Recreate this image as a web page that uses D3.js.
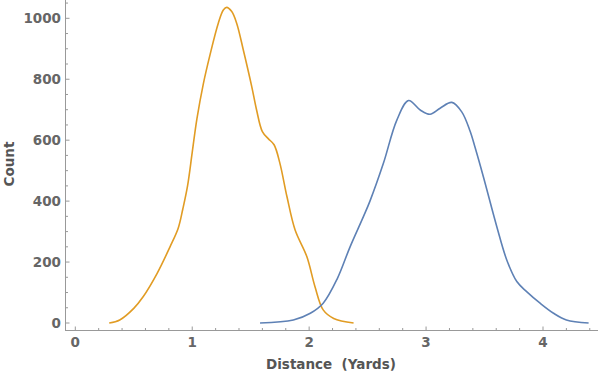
<!DOCTYPE html>
<meta charset="utf-8">
<head>
  <title>Distance histogram</title>
</head>

<style>
body {
  margin: 0;
  background: #fff;
}
text {
  font-family: "DejaVu Sans", sans-serif;
  font-weight: bold;
  fill: #666;
}
</style>

<body>
  <div id="content">
    <svg width="600" height="374"></svg>
  </div>

  <script src="https://cdnjs.cloudflare.com/ajax/libs/d3/7.8.5/d3.min.js"></script>

  <script>
// orange series (distance, count)
var orangeX = [0.29, 0.38, 0.5, 0.58, 0.7, 0.81, 0.88, 0.92, 0.96, 1.0, 1.04, 1.095, 1.152, 1.223, 1.266, 1.295, 1.338, 1.38, 1.437, 1.509, 1.55, 1.6, 1.65, 1.7, 1.75, 1.81, 1.88, 1.98, 2.05, 2.12, 2.21, 2.38];
var orangeY = [0, 10, 48, 86, 163, 250, 311, 375, 450, 560, 670, 785, 880, 984, 1027, 1036, 1022, 984, 896, 776, 700, 628, 605, 585, 524, 415, 305, 218, 119, 43, 15, 0];

// blue series
var blueX = [1.58, 1.865, 2.01, 2.12, 2.24, 2.35, 2.464, 2.52, 2.635, 2.75, 2.85, 2.95, 3.034, 3.12, 3.22, 3.305, 3.376, 3.42, 3.49, 3.605, 3.69, 3.776, 3.86, 3.975, 4.09, 4.2, 4.39];
var blueY = [0, 10, 32, 65, 145, 250, 349, 400, 524, 666, 730, 699, 685, 705, 724, 693, 630, 575, 480, 316, 207, 136, 103, 65, 32, 10, 0];

var xTicks = [0, 1, 2, 3, 4];
var yTicks = [0, 200, 400, 600, 800, 1000];

var svg = d3.select('#content svg');

var x = d3.scaleLinear().domain([0, 4]).range([75.3, 543]);
var y = d3.scaleLinear().domain([0, 1000]).range([323, 18.3]);

var axisColor = '#999';

// y axis
svg.append('line')
  .attr('x1', 65.5).attr('x2', 65.5)
  .attr('y1', 0).attr('y2', 330.5)
  .attr('stroke', axisColor);

d3.range(0, 1051, 50).forEach(function(v) {
  var major = v % 200 == 0;
  svg.append('line')
    .attr('x1', 65.5).attr('x2', 65.5 + (major ? 4 : 2.5))
    .attr('y1', y(v)).attr('y2', y(v))
    .attr('stroke', axisColor);
});

svg.selectAll('.ylab')
  .data(yTicks)
  .enter().append('text')
  .attr('x', 61)
  .attr('y', function(d) { return y(d); })
  .attr('dy', '0.36em')
  .attr('text-anchor', 'end')
  .style('font-size', '13.5px')
  .text(function(d) { return d; });

// x axis
svg.append('line')
  .attr('x1', 65).attr('x2', 598)
  .attr('y1', 330.5).attr('y2', 330.5)
  .attr('stroke', axisColor);

d3.range(0, 23).forEach(function(i) {
  var v = i * 0.2;
  var major = i % 5 == 0;
  svg.append('line')
    .attr('x1', x(v)).attr('x2', x(v))
    .attr('y1', 330.5).attr('y2', 330.5 - (major ? 4 : 2.5))
    .attr('stroke', axisColor);
});

svg.selectAll('.xlab')
  .data(xTicks)
  .enter().append('text')
  .attr('x', function(d) { return x(d); })
  .attr('y', 347)
  .attr('text-anchor', 'middle')
  .style('font-size', '13.5px')
  .text(function(d) { return d; });

// axis titles
svg.append('text')
  .attr('x', 331)
  .attr('y', 369)
  .attr('text-anchor', 'middle')
  .style('font-size', '13.5px')
  .style('fill', '#555')
  .style('white-space', 'pre')
  .text('Distance  (Yards)');

svg.append('text')
  .attr('transform', 'translate(14,164) rotate(-90)')
  .attr('text-anchor', 'middle')
  .style('font-size', '13.5px')
  .style('fill', '#555')
  .text('Count');

// curves
var line = d3.line()
  .x(function(d) { return x(d[0]); })
  .y(function(d) { return y(d[1]); })
  .curve(d3.curveCatmullRom.alpha(0.5));

svg.append('path')
  .datum(orangeX.map(function(v, i) { return [v, orangeY[i]]; }))
  .attr('d', line)
  .attr('fill', 'none')
  .attr('stroke', '#E19C24')
  .attr('stroke-width', 1.6);

svg.append('path')
  .datum(blueX.map(function(v, i) { return [v, blueY[i]]; }))
  .attr('d', line)
  .attr('fill', 'none')
  .attr('stroke', '#5E81B5')
  .attr('stroke-width', 1.6);
  </script>
</body>
</html>
